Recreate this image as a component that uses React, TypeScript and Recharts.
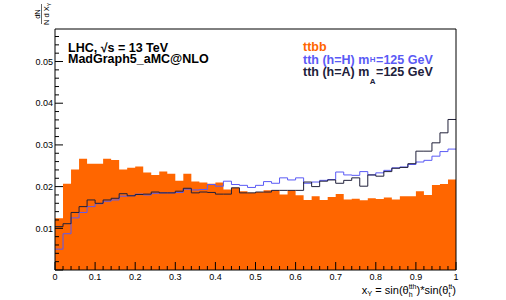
import React from 'react'
import { ComposedChart, Area, Line, XAxis, YAxis, ReferenceLine } from 'recharts'

// 50 bins of width 0.02 on x in [0, 1]
const binWidth = 0.02

const ttbb = [
  0.0124, 0.0207, 0.0241, 0.0267, 0.0255, 0.0255, 0.0267, 0.0264, 0.0241, 0.0245,
  0.0248, 0.0234, 0.0228, 0.0236, 0.0231, 0.0214, 0.0231, 0.0212, 0.021, 0.0207,
  0.021, 0.0193, 0.0198, 0.0189, 0.0185, 0.0187, 0.0191, 0.0191, 0.0181, 0.0191,
  0.0179, 0.0168, 0.0177, 0.0168, 0.0175, 0.0182, 0.0169, 0.0171, 0.0167, 0.0172,
  0.017, 0.0174, 0.0169, 0.0177, 0.0177, 0.0189, 0.018, 0.0204, 0.0206, 0.0217,
]

const tthH = [
  0.005, 0.0087, 0.0125, 0.0138, 0.0152, 0.0159, 0.0165, 0.0168, 0.0177, 0.0178,
  0.0182, 0.018, 0.0184, 0.0185, 0.0185, 0.0186, 0.0194, 0.0192, 0.0193, 0.0205,
  0.0201, 0.0213, 0.0205, 0.0203, 0.0198, 0.0203, 0.0212, 0.0208, 0.0221, 0.0216,
  0.0221, 0.0208, 0.0211, 0.0215, 0.0217, 0.0235, 0.0228, 0.0227, 0.0236, 0.0228,
  0.0233, 0.0239, 0.0245, 0.0247, 0.0253, 0.0259, 0.0263, 0.0273, 0.0284, 0.029,
]

const tthA = [
  0.0104, 0.0111, 0.0138, 0.0152, 0.0168, 0.016, 0.0168, 0.0172, 0.0183, 0.0178,
  0.0181, 0.0182, 0.0187, 0.0185, 0.0185, 0.0189, 0.0196, 0.0185, 0.0187, 0.0186,
  0.0182, 0.0182, 0.0197, 0.0185, 0.0185, 0.0187, 0.0187, 0.0191, 0.0191, 0.0191,
  0.0191, 0.0211, 0.02, 0.0213, 0.0216, 0.0208, 0.0215, 0.0221, 0.0201, 0.0228,
  0.0225, 0.0236, 0.0244, 0.0246, 0.0255, 0.0285, 0.0285, 0.0305, 0.0329, 0.0361,
]

const xTickLabels = ['0', '0.1', '0.2', '0.3', '0.4', '0.5', '0.6', '0.7', '0.8', '0.9', '1']
const yTickLabels = ['0.01', '0.02', '0.03', '0.04', '0.05']
const yMax = 0.0578

// step-after table: one row per bin edge, last edge repeats the last bin
const data = ttbb.concat([ttbb[ttbb.length - 1]]).map((_, i) => {
  const k = Math.min(i, ttbb.length - 1)
  return { x: +(i * binWidth).toFixed(2), ttbb: ttbb[k], tthH: tthH[k], tthA: tthA[k] }
})

const xTicks = data.map((d) => d.x)
const yTicks = Array.from({ length: 29 }, (_, i) => +(i * 0.002).toFixed(3))

const FONT = '"Liberation Sans", Arial, Helvetica, sans-serif'
const ORANGE = '#ff6600'
const BLUE = '#5a5af5'
const DARK = '#20203a'

function XTick(props: any) {
  const { x, y, payload } = props
  const step = Math.round(payload.value / binWidth)
  const major = step % 5 === 0
  return (
    <g>
      <line x1={x} x2={x} y1={y} y2={y - (major ? 8 : 4)} stroke="#000" />
      {major && (
        <text x={x} y={y + 10} textAnchor="middle" fontSize={9} fontFamily={FONT} fill="#000">
          {xTickLabels[step / 5]}
        </text>
      )}
    </g>
  )
}

function YTick(props: any) {
  const { x, y, payload } = props
  const step = Math.round(payload.value / 0.002)
  const major = step % 5 === 0
  return (
    <g>
      <line x1={x} x2={x + (major ? 8 : 4)} y1={y} y2={y} stroke="#000" />
      {major && step > 0 && (
        <text x={x - 2} y={y + 3.2} textAnchor="end" fontSize={9} fontFamily={FONT} fill="#000">
          {yTickLabels[step / 5 - 1]}
        </text>
      )}
    </g>
  )
}

export default function App() {
  return (
    <div style={{ position: 'absolute', left: 0, top: 0, width: 506, height: 300, background: '#fff' }}>
      <ComposedChart width={506} height={300} data={data} margin={{ top: 29, right: 50, bottom: 0, left: 0 }}>
        <Area
          type="stepAfter"
          dataKey="ttbb"
          fill={ORANGE}
          fillOpacity={1}
          stroke="none"
          isAnimationActive={false}
        />
        <Line type="stepAfter" dataKey="tthH" stroke={BLUE} strokeWidth={1} dot={false} isAnimationActive={false} />
        <Line type="stepAfter" dataKey="tthA" stroke={DARK} strokeWidth={1} dot={false} isAnimationActive={false} />
        <ReferenceLine y={yMax} stroke="#000" strokeWidth={1} />
        <ReferenceLine x={1} stroke="#000" strokeWidth={1} />
        <XAxis
          dataKey="x"
          type="number"
          domain={[0, 1]}
          ticks={xTicks}
          interval={0}
          height={30}
          tickSize={0}
          tickMargin={0}
          tickLine={false}
          axisLine={{ stroke: '#000' }}
          tick={<XTick />}
        />
        <YAxis
          type="number"
          domain={[0, yMax]}
          ticks={yTicks}
          interval={0}
          width={55}
          tickSize={0}
          tickMargin={0}
          tickLine={false}
          axisLine={{ stroke: '#000' }}
          tick={<YTick />}
        />
      </ComposedChart>
      <svg
        width={506}
        height={300}
        style={{ position: 'absolute', left: 0, top: 0, pointerEvents: 'none', fontFamily: FONT, whiteSpace: 'pre' }}
      >
        {/* y axis title: dN / (N d X_Y), rotated */}
        <text transform="translate(40,14) rotate(-90)" textAnchor="middle" fontSize={7.5} fill="#000">
          dN
        </text>
        <line x1={41.5} x2={41.5} y1={4} y2={24} stroke="#000" strokeWidth={0.6} />
        <text transform="translate(49,14) rotate(-90)" textAnchor="middle" fontSize={7.5} fill="#000">
          N d X<tspan fontSize={5} dy={1.5}>Y</tspan>
        </text>

        <text x={68} y={51.5} fontSize={12.5} fontWeight="bold" fill="#000">
          LHC, √s = 13 TeV
        </text>
        <text x={68} y={62.5} fontSize={12.5} fontWeight="bold" fill="#000">
          MadGraph5_aMC@NLO
        </text>

        <text x={303} y={51.3} fontSize={12.5} fontWeight="bold" fill={ORANGE}>
          ttbb
        </text>
        <text x={303} y={64.3} fontSize={12.5} fontWeight="bold" fill={BLUE}>
          tth (h=H)  m<tspan fontSize={8} dx={0.5} dy={-2}>H</tspan>
          <tspan dx={0.5} dy={2}>=125 GeV</tspan>
        </text>
        <text x={303} y={76} fontSize={12.5} fontWeight="bold" fill={DARK}>
          tth (h=A)  m<tspan fontSize={8} dx={0.5} dy={8}>A</tspan>
          <tspan dx={0.5} dy={-8}>=125 GeV</tspan>
        </text>

        <text x={456} y={294} textAnchor="end" fontSize={11} fill="#000">
          x<tspan fontSize={7.5} dy={2}>Y</tspan>
          <tspan dy={-2}> = sin(θ</tspan>
          <tspan fontSize={7} dy={-5}>tth</tspan>
          <tspan fontSize={7} dx={-7.8} dy={8}>h</tspan>
          <tspan dx={4} dy={-3}>)*sin(θ</tspan>
          <tspan fontSize={7} dy={-5}>tt</tspan>
          <tspan fontSize={7} dx={-3.9} dy={8}>t</tspan>
          <tspan dx={2} dy={-3}>)</tspan>
        </text>
      </svg>
    </div>
  )
}
